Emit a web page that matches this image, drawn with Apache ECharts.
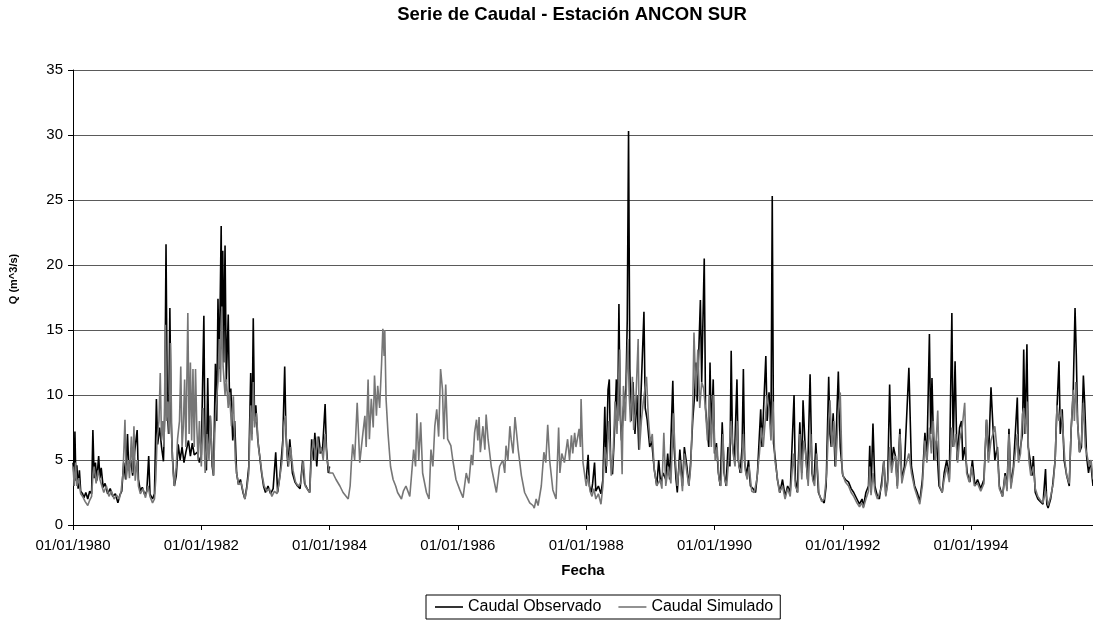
<!DOCTYPE html>
<html>
<head>
<meta charset="utf-8">
<title>Serie de Caudal - Estación ANCON SUR</title>
<script src="https://cdn.jsdelivr.net/npm/echarts@6/dist/echarts.min.js"></script>
<style>
  html, body { margin: 0; padding: 0; background: #fff; }
  #chart { width: 1093px; height: 622px; }
</style>
</head>
<body>
<div id="chart"></div>
<script>
// fechas en años decimales, caudal en m^3/s
const observado = [
  [1980.00, 4.8], [1980.02, 3.6], [1980.03, 7.2], [1980.045, 3.4], [1980.06, 4.6], [1980.08, 2.8],
  [1980.10, 4.2], [1980.12, 2.6], [1980.15, 2.4], [1980.17, 2.1], [1980.20, 2.5], [1980.23, 2.0],
  [1980.26, 2.6], [1980.29, 2.4], [1980.31, 7.3], [1980.33, 3.6], [1980.35, 4.8], [1980.37, 3.4],
  [1980.40, 5.3], [1980.42, 3.6], [1980.44, 4.4], [1980.47, 2.9], [1980.50, 3.2], [1980.54, 2.4],
  [1980.58, 2.8], [1980.62, 2.2], [1980.66, 2.4], [1980.70, 1.7], [1980.73, 2.3], [1980.76, 2.6],
  [1980.79, 4.8], [1980.82, 3.5], [1980.85, 7.0], [1980.87, 4.2], [1980.90, 5.0], [1980.93, 3.8],
  [1980.96, 5.6], [1981.00, 7.3], [1981.02, 3.5], [1981.05, 2.6], [1981.08, 2.9], [1981.12, 2.3],
  [1981.15, 2.6], [1981.18, 5.3], [1981.20, 2.4], [1981.24, 2.0], [1981.27, 2.4], [1981.30, 9.7],
  [1981.32, 6.2], [1981.35, 7.5], [1981.38, 6.0], [1981.41, 4.9], [1981.43, 8.5], [1981.45, 21.6],
  [1981.47, 9.0], [1981.49, 7.0], [1981.51, 16.7], [1981.53, 8.0], [1981.55, 5.2], [1981.58, 3.0],
  [1981.61, 3.8], [1981.64, 6.2], [1981.67, 5.0], [1981.70, 6.0], [1981.73, 4.8], [1981.76, 5.6],
  [1981.80, 6.5], [1981.83, 5.3], [1981.86, 6.3], [1981.89, 5.4], [1981.94, 5.6], [1981.97, 4.8],
  [1982.00, 5.4], [1982.04, 16.1], [1982.06, 5.0], [1982.08, 4.2], [1982.10, 11.3], [1982.12, 5.6],
  [1982.14, 8.4], [1982.17, 4.5], [1982.19, 3.8], [1982.22, 12.4], [1982.24, 8.0], [1982.26, 17.4],
  [1982.28, 12.0], [1982.31, 23.0], [1982.32, 14.0], [1982.335, 21.1], [1982.35, 12.5], [1982.37, 21.5],
  [1982.39, 11.0], [1982.42, 16.2], [1982.44, 9.5], [1982.46, 10.5], [1982.49, 6.5], [1982.52, 8.0],
  [1982.55, 4.0], [1982.58, 3.1], [1982.61, 3.5], [1982.65, 2.5], [1982.68, 2.0], [1982.71, 3.0],
  [1982.74, 4.5], [1982.77, 11.7], [1982.79, 7.0], [1982.81, 15.9], [1982.83, 8.0], [1982.85, 9.2],
  [1982.88, 6.6], [1982.91, 5.3], [1982.94, 4.0], [1982.97, 3.0], [1983.00, 2.5], [1983.04, 3.0],
  [1983.08, 2.4], [1983.12, 2.8], [1983.16, 5.6], [1983.19, 2.5], [1983.23, 4.0], [1983.27, 6.5],
  [1983.30, 12.2], [1983.32, 7.0], [1983.35, 4.5], [1983.38, 6.6], [1983.42, 4.0], [1983.46, 3.3],
  [1983.50, 3.0], [1983.54, 2.8], [1983.58, 5.0], [1983.61, 3.2], [1983.65, 2.8], [1983.69, 2.5],
  [1983.72, 6.6], [1983.75, 5.0], [1983.77, 7.1], [1983.80, 4.5], [1983.83, 6.8], [1983.86, 5.5],
  [1983.89, 5.8], [1983.93, 9.3], [1983.95, 6.0], [1983.98, 4.0], [1984.00, 4.5],
  [1986.00, null],
  [1988.00, 3.5], [1988.03, 5.4], [1988.05, 3.0], [1988.08, 2.5], [1988.10, 3.2], [1988.13, 4.8],
  [1988.15, 2.6], [1988.19, 3.0], [1988.23, 2.4], [1988.26, 3.5], [1988.29, 9.1], [1988.31, 4.0],
  [1988.34, 10.4], [1988.36, 11.2], [1988.38, 5.0], [1988.41, 3.9], [1988.44, 7.0], [1988.47, 11.2],
  [1988.49, 8.0], [1988.51, 17.0], [1988.53, 8.5], [1988.55, 6.5], [1988.58, 9.0], [1988.62, 10.5],
  [1988.64, 15.8], [1988.66, 30.3], [1988.68, 12.0], [1988.70, 8.0], [1988.73, 11.0], [1988.76, 7.0],
  [1988.79, 10.0], [1988.82, 5.8], [1988.85, 9.5], [1988.90, 16.4], [1988.92, 9.0], [1988.95, 8.1],
  [1988.99, 6.0], [1989.02, 6.5], [1989.06, 4.3], [1989.10, 3.0], [1989.13, 5.0], [1989.16, 3.2],
  [1989.20, 4.0], [1989.24, 3.5], [1989.27, 5.5], [1989.30, 3.5], [1989.35, 11.1], [1989.37, 6.0],
  [1989.40, 3.5], [1989.42, 2.5], [1989.46, 5.8], [1989.50, 3.0], [1989.53, 6.0], [1989.57, 4.5],
  [1989.60, 3.0], [1989.63, 5.0], [1989.66, 8.0], [1989.69, 10.0], [1989.71, 12.5], [1989.73, 9.5],
  [1989.78, 17.3], [1989.80, 11.0], [1989.84, 20.5], [1989.86, 9.0], [1989.88, 8.9], [1989.91, 6.0],
  [1989.93, 12.5], [1989.95, 7.0], [1989.98, 11.2], [1990.00, 5.5], [1990.03, 6.3], [1990.06, 4.0],
  [1990.09, 3.0], [1990.12, 7.9], [1990.15, 4.0], [1990.18, 3.0], [1990.21, 6.0], [1990.24, 4.5],
  [1990.26, 13.4], [1990.28, 6.3], [1990.31, 5.0], [1990.35, 11.2], [1990.37, 5.0], [1990.40, 4.0],
  [1990.43, 6.0], [1990.45, 12.0], [1990.47, 4.8], [1990.50, 3.8], [1990.53, 5.0], [1990.56, 3.0],
  [1990.60, 2.8], [1990.64, 2.5], [1990.67, 4.0], [1990.72, 8.9], [1990.74, 6.0], [1990.80, 13.0],
  [1990.82, 8.0], [1990.85, 10.2], [1990.88, 7.0], [1990.90, 25.3], [1990.92, 6.3], [1990.95, 5.0],
  [1990.98, 3.5], [1991.02, 2.5], [1991.06, 3.5], [1991.10, 2.2], [1991.14, 3.0], [1991.18, 2.5],
  [1991.24, 10.0], [1991.26, 3.5], [1991.29, 2.5], [1991.33, 7.9], [1991.36, 4.0], [1991.38, 9.6],
  [1991.41, 6.3], [1991.45, 3.5], [1991.49, 11.6], [1991.52, 4.0], [1991.55, 3.2], [1991.58, 6.3],
  [1991.62, 2.5], [1991.66, 2.0], [1991.71, 1.7], [1991.74, 3.0], [1991.78, 11.4], [1991.80, 7.0],
  [1991.82, 6.0], [1991.85, 8.6], [1991.88, 4.5], [1991.93, 11.8], [1991.96, 6.0], [1992.00, 3.8],
  [1992.04, 3.5], [1992.09, 3.3], [1992.13, 2.8], [1992.17, 2.5], [1992.22, 2.0], [1992.26, 1.6],
  [1992.30, 2.0], [1992.32, 1.4], [1992.36, 2.5], [1992.40, 3.0], [1992.42, 6.1], [1992.44, 2.5],
  [1992.47, 7.8], [1992.50, 3.0], [1992.54, 2.2], [1992.57, 2.0], [1992.61, 3.5], [1992.64, 5.0],
  [1992.67, 2.3], [1992.70, 3.5], [1992.73, 10.8], [1992.76, 4.5], [1992.79, 6.0], [1992.82, 5.3],
  [1992.85, 3.0], [1992.89, 7.4], [1992.92, 3.5], [1992.96, 4.5], [1993.03, 12.1], [1993.07, 4.5],
  [1993.12, 3.0], [1993.16, 2.5], [1993.20, 1.8], [1993.24, 3.5], [1993.28, 7.1], [1993.31, 5.0],
  [1993.35, 14.7], [1993.37, 7.0], [1993.39, 11.3], [1993.42, 5.0], [1993.46, 6.5], [1993.50, 3.0],
  [1993.55, 2.5], [1993.58, 4.0], [1993.62, 5.0], [1993.66, 3.5], [1993.70, 16.3], [1993.72, 6.0],
  [1993.75, 12.6], [1993.78, 5.0], [1993.82, 7.5], [1993.85, 8.0], [1993.87, 5.0], [1993.90, 6.0],
  [1993.94, 4.0], [1993.98, 3.3], [1994.02, 5.0], [1994.06, 3.0], [1994.10, 3.5], [1994.15, 2.8],
  [1994.20, 3.5], [1994.24, 8.1], [1994.27, 5.0], [1994.31, 10.6], [1994.34, 7.6], [1994.37, 5.0],
  [1994.41, 6.0], [1994.44, 3.0], [1994.49, 2.2], [1994.53, 4.0], [1994.56, 2.8], [1994.59, 7.4],
  [1994.62, 3.0], [1994.66, 4.5], [1994.72, 9.8], [1994.74, 5.0], [1994.77, 6.0], [1994.80, 7.0],
  [1994.82, 13.5], [1994.84, 7.0], [1994.87, 13.9], [1994.89, 6.0], [1994.92, 5.0], [1994.95, 3.8],
  [1994.97, 5.3], [1995.00, 2.5], [1995.04, 2.0], [1995.08, 1.8], [1995.12, 1.6], [1995.16, 4.3],
  [1995.18, 1.6], [1995.20, 1.3], [1995.24, 2.0], [1995.27, 3.0], [1995.31, 5.0], [1995.33, 8.0],
  [1995.37, 12.6], [1995.39, 7.0], [1995.42, 8.9], [1995.45, 5.0], [1995.49, 3.8], [1995.53, 3.0],
  [1995.56, 7.4], [1995.59, 10.0], [1995.62, 16.7], [1995.64, 13.0], [1995.66, 7.9], [1995.69, 5.6],
  [1995.72, 6.0], [1995.75, 11.5], [1995.77, 9.4], [1995.80, 5.3], [1995.83, 4.0], [1995.86, 5.0],
  [1995.90, 3.0]
];

const simulado = [
  [1980.00, 4.5], [1980.02, 3.0], [1980.04, 4.8], [1980.06, 3.0], [1980.09, 3.6], [1980.12, 2.4],
  [1980.15, 2.2], [1980.19, 1.8], [1980.23, 1.5], [1980.26, 1.9], [1980.29, 2.2], [1980.31, 3.8],
  [1980.33, 4.5], [1980.36, 3.2], [1980.39, 4.2], [1980.42, 3.5], [1980.45, 3.0], [1980.48, 2.5],
  [1980.52, 3.0], [1980.56, 2.2], [1980.60, 2.6], [1980.64, 2.0], [1980.68, 2.3], [1980.72, 2.0],
  [1980.75, 2.6], [1980.78, 4.0], [1980.81, 8.1], [1980.83, 3.5], [1980.86, 5.0], [1980.88, 3.6],
  [1980.91, 6.8], [1980.93, 4.0], [1980.95, 7.6], [1980.97, 3.4], [1981.00, 5.0], [1981.02, 3.0],
  [1981.05, 2.4], [1981.09, 2.8], [1981.13, 2.1], [1981.17, 3.0], [1981.20, 2.2], [1981.24, 1.7],
  [1981.27, 2.0], [1981.29, 3.5], [1981.31, 6.5], [1981.34, 8.0], [1981.36, 11.7], [1981.38, 6.5],
  [1981.40, 8.0], [1981.42, 6.0], [1981.44, 15.4], [1981.46, 8.0], [1981.48, 9.5], [1981.50, 7.0],
  [1981.52, 14.0], [1981.54, 6.6], [1981.56, 4.0], [1981.58, 3.0], [1981.61, 4.5], [1981.63, 6.6],
  [1981.66, 8.0], [1981.68, 12.2], [1981.70, 6.0], [1981.72, 7.6], [1981.74, 11.2], [1981.76, 6.0],
  [1981.79, 16.3], [1981.81, 7.0], [1981.83, 12.5], [1981.85, 6.5], [1981.87, 12.0], [1981.89, 6.0],
  [1981.91, 12.0], [1981.93, 7.5], [1981.95, 5.0], [1981.97, 8.0], [1982.00, 4.5], [1982.03, 9.0],
  [1982.06, 4.0], [1982.09, 7.0], [1982.12, 5.0], [1982.14, 8.4], [1982.17, 5.0], [1982.19, 3.8],
  [1982.21, 7.0], [1982.23, 9.2], [1982.26, 11.0], [1982.28, 14.3], [1982.30, 11.0], [1982.32, 16.8],
  [1982.34, 12.2], [1982.37, 10.0], [1982.39, 11.2], [1982.42, 9.0], [1982.44, 10.2], [1982.47, 7.6],
  [1982.50, 9.9], [1982.53, 5.0], [1982.55, 4.0], [1982.58, 3.1], [1982.62, 3.3], [1982.65, 2.6],
  [1982.68, 2.0], [1982.71, 2.8], [1982.74, 4.0], [1982.77, 9.2], [1982.79, 6.5], [1982.81, 11.0],
  [1982.83, 7.5], [1982.86, 8.6], [1982.89, 6.0], [1982.92, 5.0], [1982.95, 3.8], [1982.98, 3.0],
  [1983.02, 2.6], [1983.06, 2.8], [1983.10, 2.2], [1983.14, 2.6], [1983.18, 2.4], [1983.22, 3.5],
  [1983.26, 5.0], [1983.29, 7.9], [1983.31, 8.4], [1983.33, 6.0], [1983.36, 4.5], [1983.39, 6.0],
  [1983.43, 4.2], [1983.47, 3.3], [1983.51, 3.0], [1983.55, 3.2], [1983.59, 5.0], [1983.62, 3.0],
  [1983.66, 2.7], [1983.69, 2.5], [1983.72, 5.5], [1983.75, 6.6], [1983.78, 5.0], [1983.81, 6.8],
  [1983.84, 5.5], [1983.87, 6.0], [1983.90, 5.0], [1983.93, 7.0], [1983.96, 5.0], [1984.00, 4.0],
  [1984.05, 4.0], [1984.10, 3.5], [1984.16, 3.0], [1984.21, 2.5], [1984.29, 2.0], [1984.32, 3.0],
  [1984.34, 4.8], [1984.36, 6.2], [1984.39, 5.0], [1984.43, 9.4], [1984.47, 4.8], [1984.52, 7.1],
  [1984.55, 8.4], [1984.57, 6.0], [1984.60, 11.2], [1984.62, 6.6], [1984.65, 9.7], [1984.68, 7.5],
  [1984.70, 11.5], [1984.73, 8.4], [1984.75, 10.7], [1984.78, 9.0], [1984.81, 12.4], [1984.83, 15.1],
  [1984.85, 13.0], [1984.86, 15.0], [1984.88, 9.7], [1984.91, 7.1], [1984.95, 4.5], [1984.99, 3.5],
  [1985.03, 3.0], [1985.06, 2.5], [1985.12, 2.0], [1985.15, 2.6], [1985.19, 3.0], [1985.25, 2.2],
  [1985.28, 4.0], [1985.31, 5.8], [1985.34, 4.5], [1985.36, 8.6], [1985.39, 5.0], [1985.42, 7.9],
  [1985.45, 4.0], [1985.51, 2.5], [1985.55, 2.0], [1985.58, 5.8], [1985.61, 4.5], [1985.64, 7.6],
  [1985.67, 8.9], [1985.70, 6.8], [1985.73, 12.0], [1985.76, 10.4], [1985.78, 6.6], [1985.81, 10.8],
  [1985.84, 6.6], [1985.89, 6.1], [1985.92, 5.0], [1985.97, 3.5], [1986.03, 2.7], [1986.08, 2.1],
  [1986.13, 4.0], [1986.17, 3.2], [1986.21, 5.4], [1986.23, 4.6], [1986.26, 7.1], [1986.29, 8.1],
  [1986.31, 6.5], [1986.33, 8.3], [1986.35, 5.6], [1986.39, 7.6], [1986.42, 5.8], [1986.44, 8.5],
  [1986.47, 6.6], [1986.52, 4.5], [1986.56, 3.5], [1986.60, 2.5], [1986.65, 4.5], [1986.70, 5.0],
  [1986.73, 4.0], [1986.75, 6.1], [1986.78, 5.0], [1986.81, 7.6], [1986.83, 6.6], [1986.86, 5.5],
  [1986.89, 8.3], [1986.94, 5.8], [1986.99, 3.8], [1987.04, 2.5], [1987.12, 1.7], [1987.17, 1.5],
  [1987.19, 1.3], [1987.22, 2.0], [1987.25, 1.5], [1987.30, 3.0], [1987.34, 5.6], [1987.37, 4.8],
  [1987.40, 7.7], [1987.43, 5.0], [1987.48, 2.7], [1987.53, 2.0], [1987.57, 7.5], [1987.59, 4.0],
  [1987.62, 5.5], [1987.66, 4.8], [1987.71, 6.6], [1987.74, 5.0], [1987.77, 6.9], [1987.79, 5.5],
  [1987.82, 7.1], [1987.84, 6.0], [1987.89, 7.4], [1987.91, 6.0], [1987.92, 9.7], [1987.95, 4.8],
  [1988.00, 3.0], [1988.03, 3.8], [1988.06, 2.6], [1988.09, 2.2], [1988.12, 2.8], [1988.15, 2.0],
  [1988.19, 2.4], [1988.23, 1.6], [1988.26, 3.0], [1988.29, 6.0], [1988.32, 4.5], [1988.35, 8.0],
  [1988.37, 6.0], [1988.39, 3.8], [1988.42, 5.5], [1988.45, 9.5], [1988.48, 7.0], [1988.52, 13.5],
  [1988.54, 8.0], [1988.56, 3.9], [1988.58, 10.7], [1988.61, 8.0], [1988.65, 14.3], [1988.67, 10.0],
  [1988.69, 7.9], [1988.72, 11.4], [1988.74, 7.3], [1988.77, 9.0], [1988.81, 14.3], [1988.83, 5.8],
  [1988.86, 8.0], [1988.89, 9.5], [1988.94, 11.4], [1988.97, 8.1], [1989.00, 6.3], [1989.03, 7.0],
  [1989.06, 4.3], [1989.10, 3.0], [1989.15, 3.5], [1989.18, 2.8], [1989.21, 7.1], [1989.24, 3.0],
  [1989.28, 4.5], [1989.32, 3.2], [1989.36, 8.6], [1989.39, 5.0], [1989.42, 3.0], [1989.46, 5.0],
  [1989.50, 2.6], [1989.53, 5.5], [1989.57, 4.0], [1989.60, 3.0], [1989.63, 4.5], [1989.66, 9.0],
  [1989.68, 14.8], [1989.71, 10.0], [1989.74, 13.5], [1989.77, 9.0], [1989.80, 11.0], [1989.83, 10.5],
  [1989.86, 8.9], [1989.89, 6.5], [1989.92, 10.0], [1989.95, 6.0], [1989.98, 10.0], [1990.01, 5.0],
  [1990.04, 6.0], [1990.07, 3.5], [1990.10, 3.0], [1990.13, 7.0], [1990.16, 3.5], [1990.19, 3.0],
  [1990.22, 5.0], [1990.26, 8.0], [1990.29, 5.5], [1990.32, 4.5], [1990.35, 8.0], [1990.38, 4.5],
  [1990.42, 4.0], [1990.45, 7.0], [1990.48, 4.2], [1990.51, 3.5], [1990.54, 4.5], [1990.58, 2.6],
  [1990.62, 2.5], [1990.66, 3.5], [1990.70, 5.5], [1990.73, 7.5], [1990.76, 6.0], [1990.79, 8.0],
  [1990.82, 10.0], [1990.85, 8.9], [1990.88, 6.5], [1990.91, 9.5], [1990.94, 5.0], [1990.97, 4.0],
  [1991.01, 2.5], [1991.06, 3.0], [1991.10, 2.0], [1991.14, 2.8], [1991.18, 2.2], [1991.23, 5.5],
  [1991.26, 3.0], [1991.30, 2.5], [1991.33, 7.0], [1991.36, 3.5], [1991.39, 6.5], [1991.42, 5.5],
  [1991.46, 3.0], [1991.50, 7.0], [1991.53, 3.5], [1991.56, 3.0], [1991.59, 5.5], [1991.63, 2.4],
  [1991.67, 1.8], [1991.71, 2.0], [1991.75, 4.0], [1991.78, 8.0], [1991.80, 9.6], [1991.83, 6.0],
  [1991.86, 8.0], [1991.89, 4.5], [1991.93, 8.5], [1991.96, 10.2], [1991.99, 4.0], [1992.04, 3.3],
  [1992.09, 3.0], [1992.13, 2.5], [1992.17, 2.2], [1992.22, 1.7], [1992.26, 1.4], [1992.30, 1.7],
  [1992.32, 1.3], [1992.36, 2.0], [1992.40, 2.6], [1992.42, 4.5], [1992.44, 2.3], [1992.47, 4.0],
  [1992.50, 2.6], [1992.54, 2.0], [1992.57, 1.9], [1992.61, 3.0], [1992.64, 5.0], [1992.67, 2.2],
  [1992.70, 3.2], [1992.73, 6.0], [1992.76, 4.0], [1992.79, 5.0], [1992.82, 5.3], [1992.85, 2.8],
  [1992.89, 7.0], [1992.92, 3.2], [1992.96, 4.2], [1993.03, 5.5], [1993.07, 4.0], [1993.12, 2.8],
  [1993.16, 2.2], [1993.20, 1.6], [1993.24, 3.0], [1993.28, 6.5], [1993.31, 4.8], [1993.35, 7.5],
  [1993.38, 5.5], [1993.41, 8.0], [1993.44, 5.0], [1993.48, 8.8], [1993.51, 3.0], [1993.55, 2.5],
  [1993.58, 3.5], [1993.62, 4.5], [1993.66, 3.3], [1993.70, 7.5], [1993.73, 6.0], [1993.76, 7.0],
  [1993.79, 4.8], [1993.82, 6.5], [1993.86, 7.5], [1993.90, 9.4], [1993.93, 4.0], [1993.97, 3.3],
  [1994.01, 4.5], [1994.05, 3.0], [1994.10, 3.2], [1994.15, 2.6], [1994.20, 3.2], [1994.24, 8.1],
  [1994.27, 4.8], [1994.31, 6.5], [1994.34, 7.0], [1994.37, 7.6], [1994.41, 5.5], [1994.44, 2.8],
  [1994.49, 2.2], [1994.53, 3.8], [1994.56, 2.6], [1994.59, 7.0], [1994.62, 2.8], [1994.66, 4.2],
  [1994.72, 7.0], [1994.74, 4.8], [1994.77, 5.5], [1994.80, 8.5], [1994.82, 9.0], [1994.85, 7.0],
  [1994.87, 9.5], [1994.90, 5.0], [1994.93, 3.8], [1994.97, 4.5], [1995.00, 2.8], [1995.04, 2.2],
  [1995.08, 1.9], [1995.12, 1.7], [1995.16, 2.6], [1995.20, 1.5], [1995.24, 2.2], [1995.28, 3.2],
  [1995.31, 5.0], [1995.34, 9.2], [1995.37, 8.0], [1995.40, 8.9], [1995.43, 7.4], [1995.46, 5.0],
  [1995.49, 3.8], [1995.53, 3.2], [1995.56, 7.4], [1995.59, 10.4], [1995.61, 8.0], [1995.63, 11.0],
  [1995.66, 7.9], [1995.69, 5.6], [1995.72, 6.5], [1995.75, 9.4], [1995.78, 6.0], [1995.81, 5.3],
  [1995.84, 4.5], [1995.87, 5.0], [1995.90, 3.5]
];

const seriesNames = ['Caudal Observado', 'Caudal Simulado'];
const seriesColors = ['#000000', '#767676'];

const FONT = '"Liberation Sans", Arial, sans-serif';

const chart = echarts.init(document.getElementById('chart'), null, { renderer: 'canvas' });

chart.setOption({
    animation: false,
    backgroundColor: '#ffffff',
    title: {
        text: 'Serie de Caudal - Estación ANCON SUR',
        left: 572,
        top: 5,
        padding: 0,
        textAlign: 'center',
        textStyle: { fontFamily: FONT, fontSize: 18.5, fontWeight: 'bold', color: '#000' }
    },
    grid: { left: 73, right: 0, top: 70, bottom: 97 },
    legend: {
        data: seriesNames,
        left: 426,
        top: 595,
        orient: 'horizontal',
        padding: [4, 7, 4, 9],
        borderColor: '#000',
        borderWidth: 1,
        borderRadius: 0,
        icon: 'rect',
        itemWidth: 28,
        itemHeight: 1.6,
        itemGap: 17,
        textStyle: { fontFamily: FONT, fontSize: 16, color: '#000' }
    },
    graphic: [{
        type: 'text',
        x: 14,
        y: 279,
        rotation: Math.PI / 2,
        style: {
            text: 'Q (m^3/s)',
            font: 'bold 11px ' + FONT,
            fill: '#000',
            align: 'center',
            verticalAlign: 'middle'
        }
    }],
    xAxis: {
        type: 'value',
        min: 1980,
        max: 1995.9,
        interval: 2,
        name: 'Fecha',
        nameLocation: 'middle',
        nameGap: 38,
        nameTextStyle: { fontFamily: FONT, fontSize: 15, fontWeight: 'bold', color: '#000' },
        axisLine: { lineStyle: { color: '#000', width: 1 } },
        axisTick: { length: 5, lineStyle: { color: '#000' } },
        splitLine: { show: false },
        axisLabel: {
            margin: 13,
            showMaxLabel: false,
            fontFamily: FONT,
            fontSize: 15,
            color: '#000',
            formatter: (v) => {
                const r = Math.round(v);
                return Math.abs(v - r) < 1e-6 && r % 2 === 0 ? '01/01/' + r : '';
            }
        }
    },
    yAxis: {
        type: 'value',
        min: 0,
        max: 35,
        interval: 5,
        axisLine: { show: true, lineStyle: { color: '#000', width: 1 } },
        axisTick: { show: true, length: 5, lineStyle: { color: '#000' } },
        splitLine: { lineStyle: { color: '#5a5a5a', width: 1 } },
        axisLabel: { margin: 10, fontFamily: FONT, fontSize: 15, color: '#000' }
    },
    series: [
        {
            name: seriesNames[0],
            type: 'line',
            data: observado,
            symbol: 'none',
            connectNulls: false,
            color: seriesColors[0],
            lineStyle: { width: 1.6, color: seriesColors[0] }
        },
        {
            name: seriesNames[1],
            type: 'line',
            data: simulado,
            symbol: 'none',
            color: seriesColors[1],
            lineStyle: { width: 1.6, color: seriesColors[1] }
        }
    ]
});

window.addEventListener('resize', () => chart.resize());
</script>
</body>
</html>
